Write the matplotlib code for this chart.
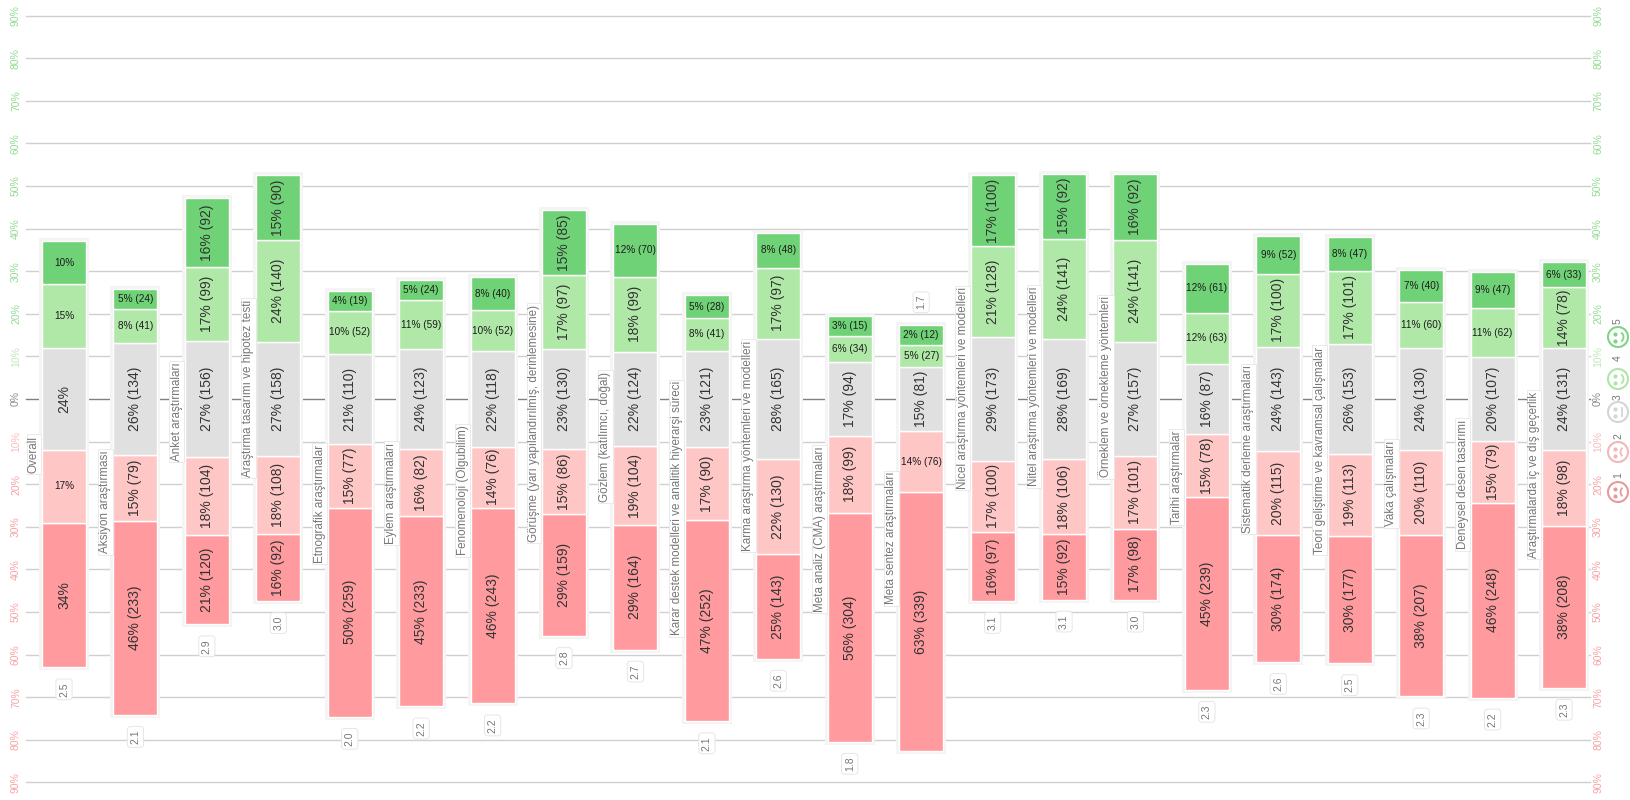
import numpy as np
import matplotlib
matplotlib.use('Agg')
import matplotlib.pyplot as plt
from matplotlib.patches import Rectangle, Circle, Arc

plt.rcParams['font.family'] = ['Liberation Sans', 'DejaVu Sans']

# Categories and mean scores, left to right
categories = ['Overall', 'Aksiyon araştırması', 'Anket araştırmaları',
              'Araştırma tasarımı ve hipotez testi', 'Etnografik araştırmalar',
              'Eylem araştırmaları', 'Fenomenoloji (Olgubilim)',
              'Görüşme (yarı yapılandırılmış, derinlemesine)', 'Gözlem (katılımcı, doğal)',
              'Karar destek modelleri ve analitik hiyerarşi süreci',
              'Karma araştırma yöntemleri ve modelleri', 'Meta analiz (CMA) araştırmaları',
              'Meta sentez araştırmaları', 'Nicel araştırma yöntemleri ve modelleri',
              'Nitel araştırma yöntemleri ve modelleri', 'Örneklem ve örnekleme yöntemleri',
              'Tarihi araştırmalar', 'Sistematik derleme araştırmaları',
              'Teori geliştirme ve kavramsal çalışmalar', 'Vaka çalışmaları',
              'Deneysel desen tasarımı', 'Araştırmalarda iç ve dış geçerlik']
means = ['2.5', '2.1', '2.9', '3.0', '2.0', '2.2', '2.2', '2.8', '2.7', '2.1', '2.6',
         '1.8', '1.7', '3.1', '3.1', '3.0', '2.3', '2.6', '2.5', '2.3', '2.2', '2.3']

# Printed percentages per answer level
pct_1 = [34, 46, 21, 16, 50, 45, 46, 29, 29, 47, 25, 56, 63, 16, 15, 17, 45, 30, 30, 38, 46, 38]
pct_2 = [17, 15, 18, 18, 15, 16, 14, 15, 19, 17, 22, 18, 14, 17, 18, 17, 15, 20, 19, 20, 15, 18]
pct_3 = [24, 26, 27, 27, 21, 24, 22, 23, 22, 23, 28, 17, 15, 29, 28, 27, 16, 24, 26, 24, 20, 24]
pct_4 = [15, 8, 17, 24, 10, 11, 10, 17, 18, 8, 17, 6, 5, 21, 24, 24, 12, 17, 17, 11, 11, 14]
pct_5 = [10, 5, 16, 15, 4, 5, 8, 15, 12, 5, 8, 3, 2, 17, 15, 16, 12, 9, 8, 7, 9, 6]

# Printed counts per answer level (Overall has none)
count_1 = [None, 233, 120, 92, 259, 233, 243, 159, 164, 252, 143, 304, 339, 97, 92, 98, 239, 174, 177, 207, 248, 208]
count_2 = [None, 79, 104, 108, 77, 82, 76, 86, 104, 90, 130, 99, 76, 100, 106, 101, 78, 115, 113, 110, 79, 98]
count_3 = [None, 134, 156, 158, 110, 123, 118, 130, 124, 121, 165, 94, 81, 173, 169, 157, 87, 143, 153, 130, 107, 131]
count_4 = [None, 41, 99, 140, 52, 59, 52, 97, 99, 41, 97, 34, 27, 128, 141, 141, 63, 100, 101, 60, 62, 78]
count_5 = [None, 24, 92, 90, 19, 24, 40, 85, 70, 28, 48, 15, 12, 100, 92, 92, 61, 52, 47, 40, 47, 33]

pct = [pct_1, pct_2, pct_3, pct_4, pct_5]
counts = [count_1, count_2, count_3, count_4, count_5]
colors = ['#ff9a9e', '#ffc6c6', '#e0e0e0', '#b0e8a8', '#70d276']

ticks = np.arange(-90, 100, 10)
px_per_pct = 4.26
px_per_cat = 71.43
min_seg = 4.7  # short segments are kept tall enough for their label

fig = plt.figure(figsize=(16.3, 8), dpi=100)
ax = fig.add_axes([0, 0, 1, 1])
ax.set_xlim(-64 / px_per_cat, (1630 - 64) / px_per_cat)
ax.set_ylim(-401 / px_per_pct, 399 / px_per_pct)
ax.axis('off')


def tick_color(v):
    if v == 0:
        return '#8a8a8a'
    if v > 0:
        return '#bdeab5' if v == 10 else '#93dc93'
    return '#f9bcbc' if v == -10 else '#f8a3a6'


# Gridlines and axis labels on both sides
grid_left = (26 - 64) / px_per_cat
grid_right = (1590 - 64) / px_per_cat
for v in ticks:
    ax.plot([grid_left, grid_right], [v, v], color='#808080' if v == 0 else '#d0d0d0',
            lw=1.0, zorder=1)
    label = f'{abs(v)}%'
    for px in (16, 1598):
        ax.text((px - 64) / px_per_cat, v, label, rotation=90, fontsize=7.5,
                color=tick_color(v), ha='center', va='center')

bar_w = 44 / px_per_cat
pad_x = 3 / px_per_cat
pad_y = 3 / px_per_pct

for i, name in enumerate(categories):
    # Real shares come from the counts where the chart prints them
    if counts[0][i] is not None:
        vals = np.array([c[i] for c in counts], dtype=float)
    else:
        vals = np.array([p[i] for p in pct], dtype=float)
    shares = vals / vals.sum() * 100
    heights = np.maximum(shares, min_seg)
    # What the short segments gain comes off the longest one
    heights[np.argmax(heights)] -= heights.sum() - 100

    # Bars are centred on the middle of the neutral answer
    bottom = -heights[2] / 2 - heights[1] - heights[0]
    top = heights[2] / 2 + heights[3] + heights[4]

    ax.add_patch(Rectangle((i - bar_w / 2 - pad_x, bottom - pad_y), bar_w + 2 * pad_x,
                           top - bottom + 2 * pad_y, facecolor='#f4f4f4', edgecolor='none', zorder=2))

    y = bottom
    for lev in range(5):
        h = heights[lev]
        ax.bar(i, h, bar_w, bottom=y, color=colors[lev], edgecolor='white', linewidth=1.0, zorder=3)
        p = pct[lev][i]
        n = counts[lev][i]
        txt = f'{p}%' if n is None else f'{p}% ({n})'
        flat = p <= 12 or (i == 0 and p < 20) or (i == 12 and p == 14)
        if flat:
            ax.text(i, y + h / 2, txt, fontsize=7.2, color='#1c1c1c', ha='center', va='center', zorder=4)
        else:
            ax.text(i, y + h / 2, txt, fontsize=10, rotation=90, color='#333333',
                    ha='center', va='center', zorder=4)
        y += h

    # Category name sits left of the bar, level with its middle
    ax.text(i - 30 / px_per_cat, (top + bottom) / 2, name, rotation=90, fontsize=8.4, color='#777777',
            ha='center', va='center', zorder=5,
            bbox=dict(boxstyle='square,pad=0.12', facecolor='white', edgecolor='#e6e6e6', lw=0.6))

    # Mean score below the bar, except where it would run off the chart
    if name == 'Meta sentez araştırmaları':
        mean_y = top + 23 / px_per_pct
    else:
        mean_y = bottom - 22 / px_per_pct
    ax.text(i, mean_y, means[i], rotation=90, fontsize=7.5, color='#777777',
            ha='center', va='center', zorder=5,
            bbox=dict(boxstyle='round,pad=0.3', facecolor='white', edgecolor='#e6e6e6', lw=0.7))

# Legend of rotated faces, drawn in pixel coordinates
leg = fig.add_axes([0, 0, 1, 1])
leg.set_xlim(0, 1630)
leg.set_ylim(800, 0)
leg.axis('off')
leg.patch.set_alpha(0)

face_y = [492, 452, 412, 379, 337]
num_y = [475, 436, 397, 358, 321]
face_colors = ['#e89a9a', '#f0b8b8', '#d5d5d5', '#b0e4a8', '#7fd585']
leg_x = 1618
for k in range(5):
    c = face_colors[k]
    fy = face_y[k]
    leg.add_patch(Circle((leg_x, fy), 10, facecolor='white', edgecolor=c, lw=1.5))
    leg.plot([leg_x - 3, leg_x - 3], [fy - 3.5, fy + 3.5], ls='none', marker='o', ms=2, color=c)
    if k < 2:
        leg.add_patch(Arc((leg_x + 7, fy), 9, 10, theta1=120, theta2=240, color=c, lw=1.3))
    elif k == 2:
        leg.plot([leg_x + 4, leg_x + 4], [fy - 4, fy + 4], color=c, lw=1.3)
    else:
        leg.add_patch(Arc((leg_x, fy), 11, 11, theta1=-55, theta2=55, color=c, lw=1.3))
    leg.text(leg_x, num_y[k], str(k + 1), rotation=90, fontsize=7.5, color='#777777',
             ha='center', va='center')

fig.savefig('out.png', dpi=100)
plt.close(fig)
